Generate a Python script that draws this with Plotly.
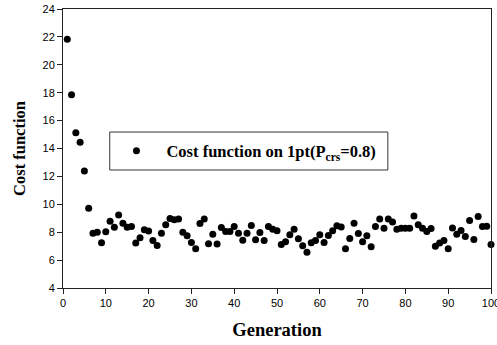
import plotly.graph_objects as go

generation = list(range(1, 101))
cost = [
    21.83, 17.85, 15.13, 14.44, 12.39, 9.72, 7.93, 8.00, 7.24, 8.03,
    8.79, 8.36, 9.24, 8.65, 8.36, 8.41, 7.22, 7.60, 8.17, 8.08,
    7.41, 7.05, 7.93, 8.53, 8.98, 8.89, 8.94, 8.00, 7.74, 7.26,
    6.81, 8.62, 8.94, 7.17, 7.86, 7.15, 8.34, 8.05, 8.05, 8.41,
    7.93, 7.43, 7.93, 8.48, 7.45, 7.98, 7.41, 8.41, 8.22, 8.10,
    7.12, 7.31, 7.81, 8.22, 7.53, 7.03, 6.57, 7.24, 7.41, 7.81,
    7.26, 7.76, 8.10, 8.46, 8.38, 6.81, 7.55, 8.65, 7.91, 7.31,
    7.74, 6.95, 8.41, 8.94, 8.29, 8.94, 8.74, 8.22, 8.28, 8.29,
    8.29, 9.17, 8.53, 8.29, 8.05, 8.27, 7.00, 7.22, 7.41, 6.81,
    8.31, 7.86, 8.12, 7.69, 8.84, 7.48, 9.13, 8.41, 8.43, 7.12,
]
series_name = "<b>Cost function on 1pt(P<sub>crs</sub>=0.8)</b>"
x_title = "Generation"
y_title = "Cost function"

fig = go.Figure()
fig.add_trace(go.Scatter(
    x=generation, y=cost, mode="markers", name=series_name,
    marker=dict(color="black", size=7),
    cliponaxis=False,
))

serif = "Liberation Serif, Times New Roman, serif"
sans = "Liberation Sans, Arial, sans-serif"

fig.update_layout(
    width=497, height=345,
    margin=dict(l=63, r=6, t=9, b=57, autoexpand=False),
    paper_bgcolor="white", plot_bgcolor="white",
    showlegend=True,
    legend=dict(
        x=0.1015, y=0.491, xanchor="left", yanchor="middle",
        bgcolor="rgba(0,0,0,0)", borderwidth=0,
        itemwidth=50,
        font=dict(family=serif, size=16.5, color="black"),
    ),
    shapes=[dict(
        type="rect", xref="paper", yref="paper",
        x0=0.1092, x1=0.759, y0=0.423, y1=0.559,
        line=dict(color="#333333", width=1), fillcolor="rgba(0,0,0,0)",
    )],
    xaxis=dict(
        range=[0, 100], dtick=10, tick0=0,
        showgrid=False, zeroline=False, automargin=False,
        showline=True, linecolor="#222222", linewidth=1, mirror=True,
        ticks="outside", ticklen=5, tickcolor="#222222",
        ticklabeloverflow="allow",
        tickfont=dict(family=sans, size=11, color="black"),
        title=dict(text="<b>" + x_title + "</b>", standoff=14,
                   font=dict(family=serif, size=18.5, color="black")),
    ),
    yaxis=dict(
        range=[4, 24], dtick=2, tick0=4,
        showgrid=False, zeroline=False, automargin=False,
        showline=True, linecolor="#222222", linewidth=1, mirror=True,
        ticks="outside", ticklen=5, tickcolor="#222222",
        tickfont=dict(family=sans, size=11, color="black"),
        title=dict(text="<b>" + y_title + "</b>", standoff=12,
                   font=dict(family=serif, size=16.5, color="black")),
    ),
)

fig.write_html("out.html")
